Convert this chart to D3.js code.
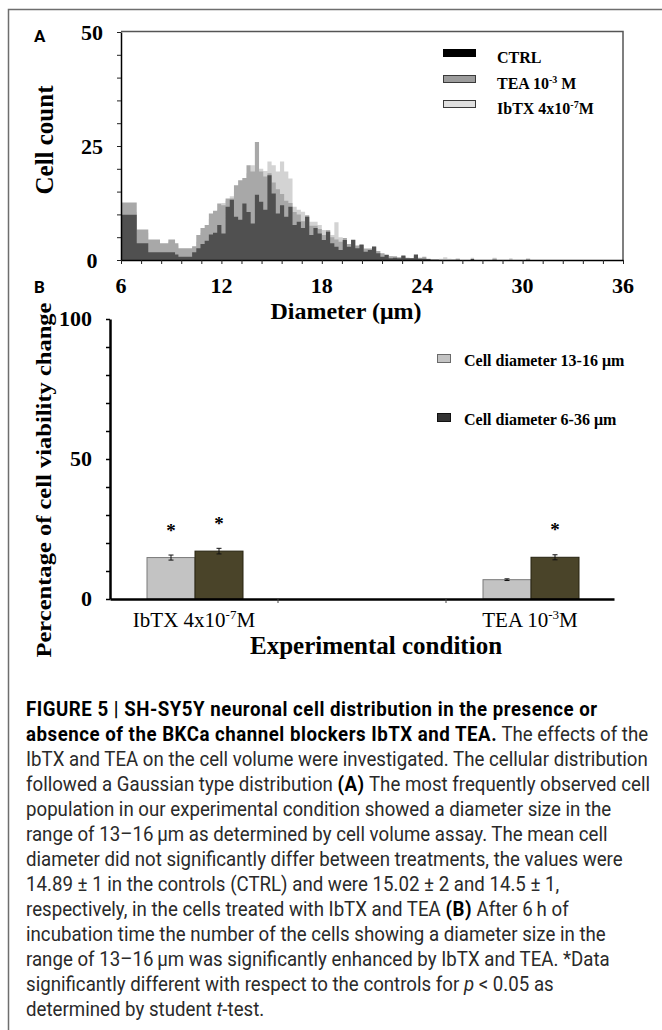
<!DOCTYPE html>
<html>
<head>
<style>
body { margin: 0; background: #fff; }
svg { display: block; }
text { white-space: pre; }
</style>
</head>
<body>
<script src="https://d3js.org/d3.v7.min.js"></script>
<script>
var width = 662, height = 1030;
var serif = "'Liberation Serif', 'Times New Roman', serif";
var sans = "Roboto, 'Liberation Sans', sans-serif";

// ---- panel A: cell diameter histogram (bin edges in um, counts per bin)
var edges = [6.0, 6.94, 7.63, 8.33, 8.83, 9.23, 9.43,
  10, 10.25, 10.5, 10.75, 11, 11.25, 11.5, 11.75, 12, 12.25, 12.5, 12.75,
  13, 13.25, 13.5, 13.75, 14, 14.25, 14.5, 14.75, 15, 15.25, 15.5, 15.75,
  16, 16.25, 16.5, 16.75, 17, 17.25, 17.5, 17.75, 18, 18.25, 18.5, 18.75,
  19, 19.25, 19.5, 19.75, 20, 20.25, 20.5, 20.75, 21, 21.25, 21.5, 21.75,
  22, 22.25, 22.5, 22.75, 23, 23.25, 23.5, 23.75, 24, 24.25, 24.5, 24.75,
  25, 25.25, 25.5, 25.75, 26,
  26.25, 26.9, 27.1, 28.2, 28.45, 29.2, 29.4, 30.2, 30.45, 31.0];

var ctrl = [9.9, 3.7, 1.7, 1.7, 1.7, 1.2, 0.7,
  0.7, 1.7, 2.6, 3.5, 4.2, 5.6, 6.0, 7.7, 5.8, 11.7, 13.2, 9.5,
  8.8, 12.4, 10.5, 8.0, 14.3, 12.8, 11.0, 18.6, 14.6, 10.2, 12.0, 9.5,
  11.7, 7.7, 8.4, 7.0, 9.5, 5.5, 7.0, 5.8, 4.4, 6.2, 3.7, 2.9,
  2.2, 4.4, 2.9, 4.4, 2.6, 3.3, 1.8, 2.2, 2.9, 1.5, 0.7, 1.1,
  0.4, 0.5, 0.4, 1.0, 0.4, 0.4, 1.2, 0.3, 0.3, 0.2, 0, 0,
  0, 0, 0, 0,
  0, 0, 0.2, 0, 0, 0, 0, 0, 0, 0];

var tea = [12.6, 6.7, 4.5, 3.7, 4.5, 3.7, 2.6,
  2.6, 3.0, 5.5, 7.0, 7.7, 10.2, 10.8, 12.4, 12.0, 13.5, 13.5, 16.4,
  17.5, 18.0, 20.8, 19.4, 25.9, 19.4, 18.3, 19.0, 17.0, 15.5, 14.5, 13.0,
  12.5, 10.5, 10.0, 8.5, 9.8, 7.5, 7.5, 6.8, 5.5, 6.5, 5.0, 4.5,
  4.0, 4.8, 3.5, 4.5, 3.2, 3.5, 2.5, 2.5, 3.0, 2.0, 1.5, 1.2,
  0.8, 0.8, 0.6, 0.8, 0.5, 0.4, 0.8, 0.5, 0.7, 0.3, 0.2, 0.2,
  0, 0, 0, 0,
  0.2, 0, 0.3, 0, 0.3, 0, 0, 0, 0.2, 0];

var ibtx = [10.5, 6.0, 4.0, 3.2, 4.0, 3.2, 2.2,
  2.0, 2.5, 4.0, 6.0, 7.0, 9.0, 10.0, 11.0, 12.5, 13.0, 14.0, 15.0,
  16.0, 17.0, 19.0, 20.8, 19.0, 20.0, 19.5, 21.6, 20.8, 19.4, 21.6, 19.4,
  17.9, 11.7, 11.0, 10.6, 9.5, 8.4, 8.4, 7.7, 6.6, 6.6, 5.5, 8.3,
  5.0, 4.0, 3.5, 3.0, 3.0, 2.8, 2.2, 2.0, 2.0, 1.5, 1.2, 1.0,
  0.8, 0.6, 0.5, 0.5, 0.4, 0.4, 0.5, 0.3, 0.3, 0.2, 0.2, 0,
  0.3, 0.6, 0.3, 0.2,
  0.4, 0, 0.5, 0, 0.5, 0, 0.4, 0, 0.4, 0];

var xTicksA = [6, 12, 18, 24, 30, 36];
var yTicksA = [0, 25, 50];

// ---- panel B: % change of cell viability
var conditions = ["IbTX", "CTRL", "TEA"];
var groupsB = ["Cell diameter 13-16 \u03bcm", "Cell diameter 6-36 \u03bcm"];
var diam1316 = [14.8, 0, 6.9];
var diam636 = [17.1, 0, 14.9];
var err1316 = [0.9, 0, 0.3];
var err636 = [1.0, 0, 0.9];
var sig1316 = [true, false, false];
var sig636 = [true, false, true];
var yTicksB = [0, 50, 100];

var svg = d3.select("body").append("svg")
    .attr("width", width)
    .attr("height", height);

// figure frame
svg.append("path")
    .attr("d", "M8.5," + height + "V9.5H" + width)
    .attr("fill", "none")
    .attr("stroke", "#6e6e6e")
    .attr("stroke-width", 1.5);

// ================= panel A
var xA = d3.scaleLinear().domain([6, 36]).range([121, 623]);
var yA = d3.scaleLinear().domain([0, 50]).range([260, 32]);

function histPoints(vals){
  var pts = vals.map(function(v, i){ return {x: edges[i], v: v}; });
  pts.push({x: edges[vals.length], v: 0});
  return pts;
}

var area = d3.area()
    .x(function(d){ return xA(d.x); })
    .y0(yA(0))
    .y1(function(d){ return yA(d.v); })
    .curve(d3.curveStepAfter);

var histColors = ["#505050", "#a8a8a8", "#d3d3d3"];
[ibtx, tea, ctrl].forEach(function(vals, i){
  svg.append("path")
      .attr("d", area(histPoints(vals)))
      .attr("fill", histColors[2 - i]);
});

// frame of plot A
svg.append("path")
    .attr("d", "M" + xA(6) + "," + (yA(50) - 0.5) + "H" + xA(36) + "V" + yA(0))
    .attr("fill", "none")
    .attr("stroke", "#555")
    .attr("stroke-width", 1.5);

var yAxisA = svg.append("g")
    .attr("transform", "translate(" + xA(6) + ",0)")
    .call(d3.axisLeft(yA).tickValues(d3.range(0, 51, 5)).tickSize(4).tickSizeOuter(0).tickFormat(""));
var xAxisA = svg.append("g")
    .attr("transform", "translate(0," + yA(0) + ")")
    .call(d3.axisBottom(xA).tickValues(d3.range(6, 36.01, 1.2)).tickSize(4).tickSizeOuter(0).tickFormat(""));
[yAxisA, xAxisA].forEach(function(g){
  g.select(".domain").attr("stroke", "#000").attr("stroke-width", 1.5);
  g.selectAll(".tick line").attr("stroke", "#222");
});

svg.selectAll(".ylabA").data(yTicksA).enter().append("text")
    .attr("x", 92).attr("y", function(d){ return yA(d) + 8; })
    .attr("text-anchor", "middle")
    .style("font", "bold 22px " + serif)
    .text(function(d){ return d; });

svg.selectAll(".xlabA").data(xTicksA).enter().append("text")
    .attr("x", function(d){ return xA(d); }).attr("y", 293)
    .attr("text-anchor", "middle")
    .style("font", "bold 22px " + serif)
    .text(function(d){ return d; });

svg.append("text")
    .attr("x", 346).attr("y", 319)
    .attr("text-anchor", "middle")
    .style("font", "bold 24px " + serif)
    .text("Diameter (\u03bcm)");

svg.append("text")
    .attr("transform", "translate(53,140) rotate(-90)")
    .attr("text-anchor", "middle")
    .style("font", "bold 25px " + serif)
    .text("Cell count");

// legend A
var legA = [
  {fill: "#000", stroke: "#000", y: 49, base: "CTRL", sup: "", tail: ""},
  {fill: "#9c9c9c", stroke: "#3a3a3a", y: 75, base: "TEA 10", sup: "-3", tail: " M"},
  {fill: "#e0e0e0", stroke: "#3a3a3a", y: 100, base: "IbTX 4x10", sup: "-7", tail: "M"}
];
legA.forEach(function(d){
  svg.append("rect")
      .attr("x", 443.5).attr("y", d.y + 0.5)
      .attr("width", 32).attr("height", 7)
      .attr("fill", d.fill).attr("stroke", d.stroke);
  var t = svg.append("text")
      .attr("x", 497).attr("y", d.y + 14)
      .style("font", "bold 16px " + serif)
      .text(d.base);
  if (d.sup) {
    t.append("tspan").attr("dy", -6).style("font-size", "10px").text(d.sup);
    t.append("tspan").attr("dy", 6).text(d.tail);
  }
});

// panel labels
svg.append("text").attr("x", 34).attr("y", 42)
    .style("font", "bold 17px " + sans).text("A");
svg.append("text").attr("x", 34).attr("y", 293)
    .style("font", "bold 17px " + sans).text("B");

// ================= panel B
var xB = d3.scaleBand().domain(conditions).range([110, 614]);
var yB = d3.scaleLinear().domain([0, 100]).range([599, 319]);
var x1 = d3.scaleBand().domain([0, 1]).range([37, 133]);

var barFill = ["#c3c3c3", "#4a4429"];
var barStroke = ["#7a7a7a", "#262210"];
var barVals = [diam1316, diam636];
var barErr = [err1316, err636];
var barSig = [sig1316, sig636];

conditions.forEach(function(c, ci){
  [0, 1].forEach(function(g){
    var v = barVals[g][ci];
    if (!v) return;
    var bx = xB(c) + x1(g), bw = x1.bandwidth();
    svg.append("rect")
        .attr("x", bx).attr("y", yB(v))
        .attr("width", bw).attr("height", yB(0) - yB(v))
        .attr("fill", barFill[g]).attr("stroke", barStroke[g]);
    var cx = bx + bw / 2, e = barErr[g][ci];
    svg.append("path")
        .attr("d", "M" + cx + "," + yB(v - e) + "V" + yB(v + e) +
                   "M" + (cx - 2.5) + "," + yB(v + e) + "h5" +
                   "M" + (cx - 2.5) + "," + yB(v - e) + "h5")
        .attr("stroke", "#111").attr("fill", "none");
    if (barSig[g][ci]) {
      svg.append("text")
          .attr("x", cx).attr("y", yB(v) - 21)
          .attr("text-anchor", "middle")
          .style("font", "bold 19px " + serif)
          .text("*");
    }
  });
});

var yAxisB = svg.append("g")
    .attr("transform", "translate(110,0)")
    .call(d3.axisLeft(yB).tickValues(d3.range(0, 101, 10)).tickSize(4).tickSizeOuter(0).tickFormat(""));
yAxisB.select(".domain").attr("stroke", "#000").attr("stroke-width", 2.5);
yAxisB.selectAll(".tick line").attr("stroke", "#000").attr("stroke-width", 1.5);

var xAxisB = svg.append("g")
    .attr("transform", "translate(0," + yB(0) + ")")
    .call(d3.axisBottom(xB).tickSize(0).tickSizeOuter(0).tickFormat(""));
xAxisB.select(".domain").attr("stroke", "#000").attr("stroke-width", 2.5);
// category separators
svg.selectAll(".sep").data(conditions.slice(1)).enter().append("line")
    .attr("x1", function(d){ return xB(d); }).attr("x2", function(d){ return xB(d); })
    .attr("y1", yB(0)).attr("y2", yB(0) + 4)
    .attr("stroke", "#444");

svg.selectAll(".ylabB").data(yTicksB).enter().append("text")
    .attr("x", 92).attr("y", function(d){ return yB(d) + 7; })
    .attr("text-anchor", "end")
    .style("font", "bold 22px " + serif)
    .text(function(d){ return d; });

var catLabels = {IbTX: ["IbTX 4x10", "-7", "M"], TEA: ["TEA 10", "-3", "M"]};
["IbTX", "TEA"].forEach(function(c){
  var t = svg.append("text")
      .attr("x", xB(c) + xB.bandwidth() / 2).attr("y", 627)
      .attr("text-anchor", "middle")
      .style("font", "21px " + serif)
      .text(catLabels[c][0]);
  t.append("tspan").attr("dy", -8).style("font-size", "13px").text(catLabels[c][1]);
  t.append("tspan").attr("dy", 8).text(catLabels[c][2]);
});

svg.append("text")
    .attr("x", 376).attr("y", 654)
    .attr("text-anchor", "middle")
    .style("font", "bold 25px " + serif)
    .text("Experimental condition");

svg.append("text")
    .attr("transform", "translate(51,480) rotate(-90)")
    .attr("text-anchor", "middle")
    .style("font", "bold 21px " + serif)
    .attr("textLength", 355).attr("lengthAdjust", "spacingAndGlyphs")
    .text("Percentage of cell viability change");

// legend B
[0, 1].forEach(function(g){
  var ly = [354, 413][g];
  svg.append("rect")
      .attr("x", 437.5).attr("y", ly + 0.5)
      .attr("width", 13).attr("height", 8)
      .attr("fill", g ? "#333" : "#c3c3c3").attr("stroke", g ? "#111" : "#6a6a6a");
  svg.append("text")
      .attr("x", 464).attr("y", ly + 12)
      .style("font", "bold 16px " + serif)
      .text(groupsB[g]);
});

// ================= caption
var caption = [
  [["FIGURE 5 | SH-SY5Y neuronal cell distribution in the presence or", "b"]],
  [["absence of the BKCa channel blockers IbTX and TEA.", "b"], [" The effects of the", ""]],
  [["IbTX and TEA on the cell volume were investigated. The cellular distribution", ""]],
  [["followed a Gaussian type distribution ", ""], ["(A)", "b"], [" The most frequently observed cell", ""]],
  [["population in our experimental condition showed a diameter size in the", ""]],
  [["range of 13\u201316\u2009\u03bcm as determined by cell volume assay. The mean cell", ""]],
  [["diameter did not significantly differ between treatments, the values were", ""]],
  [["14.89 \u00b1 1 in the controls (CTRL) and were 15.02 \u00b1 2 and 14.5 \u00b1 1,", ""]],
  [["respectively, in the cells treated with IbTX and TEA ", ""], ["(B)", "b"], [" After 6\u2009h of", ""]],
  [["incubation time the number of the cells showing a diameter size in the", ""]],
  [["range of 13\u201316\u2009\u03bcm was significantly enhanced by IbTX and TEA. *Data", ""]],
  [["significantly different with respect to the controls for ", ""], ["p", "i"], [" < 0.05 as", ""]],
  [["determined by student ", ""], ["t", "i"], ["-test.", ""]]
];

var cap = svg.append("g");
var capLines = caption.map(function(line, i){
  var t = cap.append("text")
      .attr("x", 0).attr("y", 716 + 25 * i)
      .style("font-family", sans)
      .style("font-size", "20px")
      .attr("fill", "#2a2a2a");
  line.forEach(function(seg){
    t.append("tspan")
        .style("font-weight", seg[1] === "b" ? "bold" : "normal")
        .style("font-style", seg[1] === "i" ? "italic" : "normal")
        .style("letter-spacing", seg[1] === "b" ? "0.55px" : null)
        .attr("fill", seg[1] === "b" ? "#000" : null)
        .text(seg[0]);
  });
  return t;
});
var s = 622 / capLines[2].node().getComputedTextLength();
cap.attr("transform", "translate(26,0) scale(" + s + ",1)");
</script>
</body>
</html>
